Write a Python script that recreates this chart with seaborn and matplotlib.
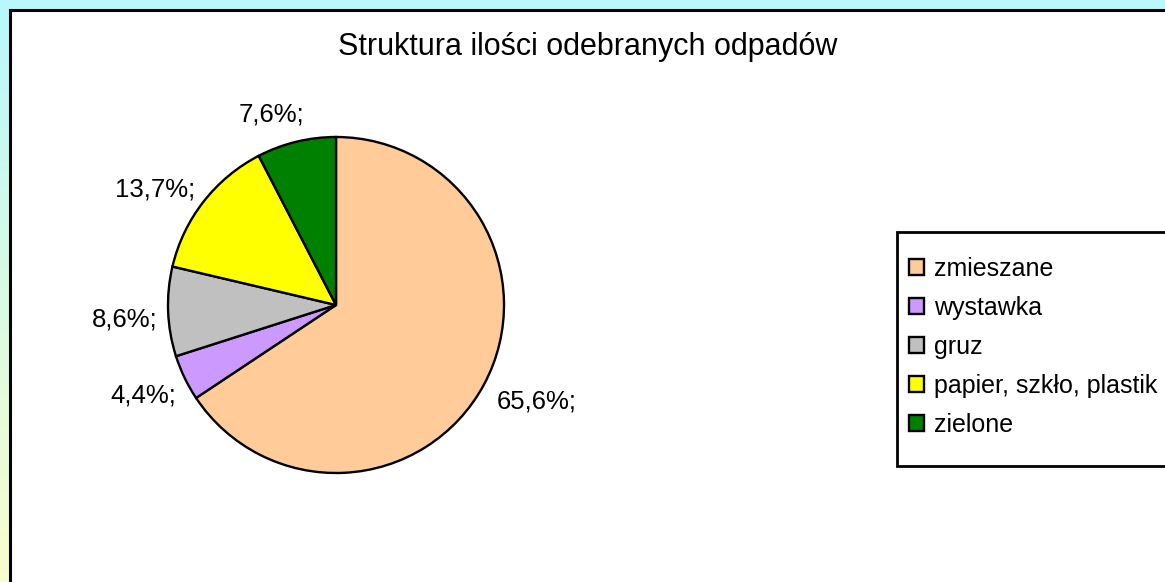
import matplotlib
matplotlib.use("Agg")
import matplotlib.pyplot as plt
import matplotlib.patches as mpatches
import numpy as np
import seaborn as sns

# Data.
categories = ["zmieszane", "wystawka", "gruz", "papier, szkło, plastik", "zielone"]
shares = [65.6, 4.4, 8.6, 13.7, 7.6]
colors = ["#ffcc99", "#cc99ff", "#c0c0c0", "#ffff00", "#008000"]
title = "Struktura ilości odebranych odpadów"

sns.set_style("white")
plt.rcParams["font.family"] = ["Liberation Sans", "DejaVu Sans"]
plt.rcParams["text.color"] = "black"

W, H = 1165, 582
fig = plt.figure(figsize=(W / 100, H / 100), dpi=100)

# Background gradient (cyan at top to pale yellow at bottom).
bg = fig.add_axes([0, 0, 1, 1], zorder=-10)
top = np.array([0.725, 0.969, 0.992])
bottom = np.array([0.980, 0.992, 0.800])
t = np.linspace(0, 1, 256)[:, None]
grad = (top[None, :] * (1 - t) + bottom[None, :] * t)[:, None, :]
bg.imshow(grad, aspect="auto", extent=[0, 1, 0, 1])
bg.set_axis_off()

# White chart area with black border on the left and top.
fig.patches.append(
    mpatches.Rectangle(
        (9.5 / W, -0.1), 1.2, 1 - 9.5 / H + 0.1,
        transform=fig.transFigure, facecolor="white",
        edgecolor="black", linewidth=2.2, zorder=-5,
    )
)

# Pie chart.
cx, cy, r = 336, 305, 168
side = 2 * 1.25 * r
ax = fig.add_axes([(cx - side / 2) / W, (H - cy - side / 2) / H, side / W, side / H])
labels = [f"{v:.1f}".replace(".", ",") + "%;" for v in shares]
wedges, texts = ax.pie(
    shares, colors=colors, labels=labels, startangle=90, counterclock=False,
    labeldistance=1.13, radius=1,
    wedgeprops=dict(edgecolor="black", linewidth=1.7),
    textprops=dict(fontsize=18.5, color="black"),
)
ax.set_xlim(-1.25, 1.25)
ax.set_ylim(-1.25, 1.25)
ax.set_aspect("equal")

# Excel's "best fit" label placement: radial distance and angular nudge.
label_dist = [1.115, 1.09, 1.063, 1.083, 1.148]
label_shift = [-2.7, 3.9, 2.3, -1.6, -4.2]
for w, txt, d, s in zip(wedges, texts, label_dist, label_shift):
    ang = np.deg2rad((w.theta1 + w.theta2) / 2 + s)
    txt.set_position((d * np.cos(ang), d * np.sin(ang)))

fig.text(588 / W, 1 - 47 / H, title, ha="center", va="center", fontsize=22,
         color="black")

# Legend box (drawn separately so its padding can differ from the entries').
fig.patches.append(
    mpatches.Rectangle(
        (897 / W, 1 - 466 / H), 0.4, (466 - 232) / H,
        transform=fig.transFigure, facecolor="white",
        edgecolor="black", linewidth=2, zorder=1,
    )
)
leg = fig.legend(
    wedges, categories, loc="upper left", bbox_to_anchor=(884 / W, 1 - 232 / H),
    fontsize=18, frameon=False, handlelength=0.6, handleheight=0.6,
    handletextpad=0.4, labelspacing=0.6, borderpad=1.0, borderaxespad=0,
)
leg.set_zorder(2)
for txt in leg.get_texts():
    txt.set_color("black")

fig.savefig("out.png", dpi=100)
